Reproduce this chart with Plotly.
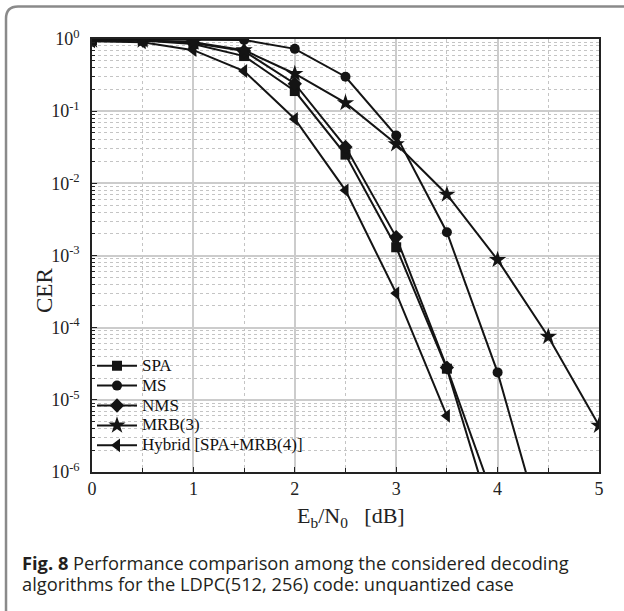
import plotly.graph_objects as go

# ---- data ----
snr = [0, 0.5, 1, 1.5, 2, 2.5, 3, 3.5, 4, 4.5, 5]
spa = [0.97, 0.95, 0.85, 0.58, 0.19, 0.025, 0.0013, 2.7e-5, 1.3e-7]
ms = [0.99, 0.99, 0.97, 0.97, 0.73, 0.30, 0.046, 0.0021, 2.4e-5, 8e-8]
nms = [0.97, 0.96, 0.88, 0.68, 0.24, 0.032, 0.0018, 2.8e-5, 3e-7]
mrb3 = [0.96, 0.96, 0.90, 0.70, 0.33, 0.13, 0.035, 0.007, 8.7e-4, 7.5e-5, 4.4e-6]
hybrid = [0.93, 0.90, 0.70, 0.36, 0.078, 0.008, 3e-4, 6e-6]

series_names = ["SPA", "MS", "NMS", "MRB(3)", "Hybrid [SPA+MRB(4)]"]
series_values = [spa, ms, nms, mrb3, hybrid]
symbols = ["square", "circle", "diamond", "star", "triangle-left"]
sizes = [10, 10, 11, 13, 12]

y_tickvals = [1, 1e-1, 1e-2, 1e-3, 1e-4, 1e-5, 1e-6]
y_ticktext = ["10<sup>0</sup>", "10<sup>-1</sup>", "10<sup>-2</sup>", "10<sup>-3</sup>",
              "10<sup>-4</sup>", "10<sup>-5</sup>", "10<sup>-6</sup>"]
y_minor = [k * 10.0 ** e for e in range(-6, 0) for k in range(2, 10)]
x_tickvals = [0, 1, 2, 3, 4, 5]

LINE = "#141414"
SERIF = "Liberation Serif, Times New Roman, serif"
SANS = "Open Sans, Noto Sans, sans-serif"

fig = go.Figure()
for name, vals, sym, sz in zip(series_names, series_values, symbols, sizes):
    fig.add_trace(go.Scatter(
        x=snr[:len(vals)], y=vals,
        name='<span style="font-size:17px">' + name + '</span>',
        mode="lines+markers",
        line=dict(color=LINE, width=2),
        marker=dict(symbol=sym, size=sz, color=LINE, line=dict(width=0)),
        cliponaxis=True,
    ))

fig.update_layout(
    width=624, height=611,
    margin=dict(l=92, r=25, t=39, b=139),
    paper_bgcolor="white", plot_bgcolor="white",
    showlegend=True,
    legend=dict(x=0.0, y=0.28, xanchor="left", yanchor="top",
                bgcolor="rgba(0,0,0,0)", borderwidth=0,
                font=dict(family=SERIF, size=13, color="#111"),
                tracegroupgap=0, itemwidth=40),
    font=dict(family=SERIF, color="#111"),
)

fig.update_xaxes(
    range=[0, 5], tickmode="array", tickvals=x_tickvals,
    ticks="inside", ticklen=5, tickcolor="#222", tickwidth=1,
    tickfont=dict(family=SERIF, size=18, color="#222"),
    showline=True, linecolor="#222", linewidth=1.5, mirror=True,
    showgrid=True, gridcolor="#cccccc", gridwidth=1.8,
    minor=dict(tickvals=[0.5, 1.5, 2.5, 3.5, 4.5], ticks="inside", ticklen=4,
               tickcolor="#222", showgrid=True, gridcolor="#c4c4c4",
               gridwidth=1, griddash="dot"),
    zeroline=False,
)
fig.update_yaxes(
    type="log", range=[-6, 0], tickmode="array", tickvals=y_tickvals,
    ticktext=y_ticktext, ticklabelstandoff=7,
    ticks="inside", ticklen=5, tickcolor="#222", tickwidth=1,
    tickfont=dict(family=SERIF, size=18, color="#222"),
    showline=True, linecolor="#222", linewidth=1.5, mirror=True,
    showgrid=True, gridcolor="#cccccc", gridwidth=1.8,
    minor=dict(tickvals=y_minor, ticks="inside", ticklen=3,
               tickcolor="#222", showgrid=True, gridcolor="#c4c4c4",
               gridwidth=1, griddash="dot"),
    zeroline=False,
)

# axis titles
fig.add_annotation(xref="paper", yref="paper", x=0.51, y=-0.105,
                   text="E<sub>b</sub>/N<sub>0</sub>\u00a0\u00a0\u00a0[dB]",
                   showarrow=False, xanchor="center", yanchor="middle",
                   font=dict(family=SERIF, size=22, color="#222"))
fig.add_annotation(xref="paper", yref="paper", x=-0.095, y=0.42,
                   text="CER", textangle=-90, showarrow=False,
                   xanchor="center", yanchor="middle",
                   font=dict(family=SERIF, size=23, color="#222"))

# caption
fig.add_annotation(xref="paper", yref="paper", x=-0.142, y=-0.209,
                   text="<b>Fig. 8</b> Performance comparison among the considered decoding",
                   showarrow=False, xanchor="left", yanchor="middle",
                   font=dict(family=SANS, size=18.3, color="#231f20"))
fig.add_annotation(xref="paper", yref="paper", x=-0.142, y=-0.257,
                   text="algorithms for the LDPC(512, 256) code: unquantized case",
                   showarrow=False, xanchor="left", yanchor="middle",
                   font=dict(family=SANS, size=18.3, color="#231f20"))

# outer border with rounded top-left corner
fig.add_shape(type="path", xref="paper", yref="paper",
              path="M -0.1696,-0.33 L -0.1696,1.047 Q -0.1696,1.0751 -0.1459,1.0751 L 1.1,1.0751",
              line=dict(color="#8a8a8a", width=2.5))

fig.write_html("out.html", config={"displayModeBar": False},
               post_script="document.body.style.margin='0';document.body.style.overflow='hidden';")
